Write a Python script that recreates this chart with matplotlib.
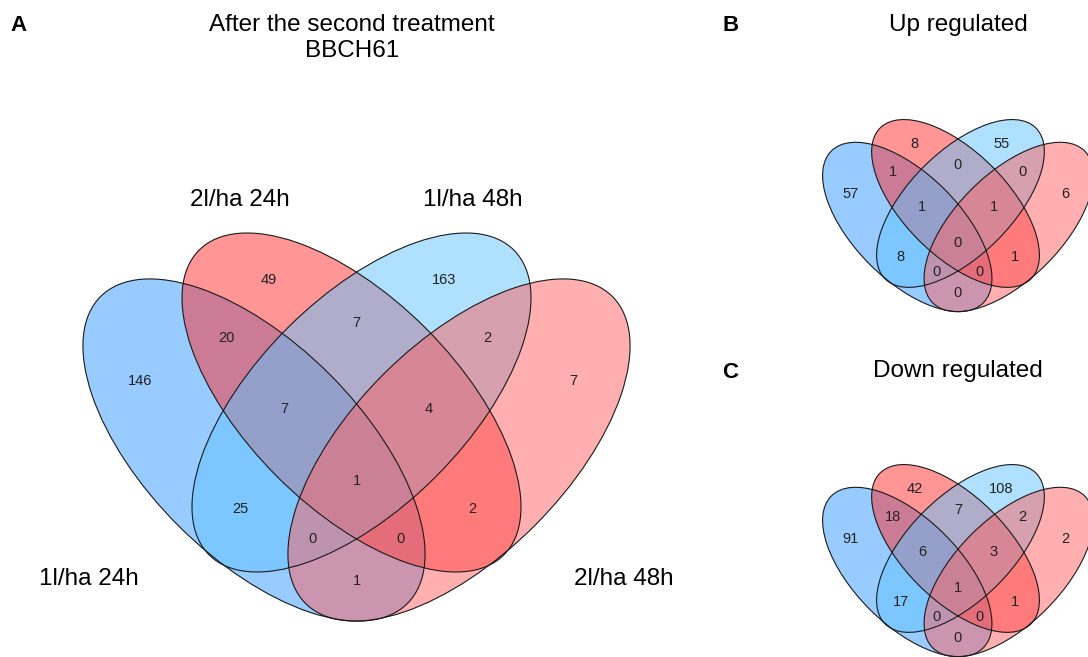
import matplotlib
matplotlib.use("Agg")
import matplotlib.pyplot as plt
from matplotlib.patches import Ellipse

plt.rcParams['font.family'] = ['Liberation Sans', 'DejaVu Sans']

# ---- data -------------------------------------------------------------
set_names = ["1l/ha 24h", "2l/ha 24h", "1l/ha 48h", "2l/ha 48h"]
set_colors = ["#3399ff", "#ff2d2d", "#61c5ff", "#ff6161"]

# region membership code: one digit per set, in the order of set_names
regions = ["1000", "0100", "0010", "0001",
           "1100", "0110", "0011",
           "1110", "0111",
           "1010", "1111", "0101",
           "1011", "1101", "1001"]

counts_all = [146, 49, 163, 7, 20, 7, 2, 7, 4, 25, 1, 2, 0, 0, 1]
counts_up = [57, 8, 55, 6, 1, 0, 0, 1, 1, 8, 0, 1, 0, 0, 0]
counts_down = [91, 42, 108, 2, 18, 7, 2, 6, 3, 17, 1, 1, 0, 0, 0]

panel_titles = ["After the second treatment\nBBCH61", "Up regulated", "Down regulated"]
panel_letters = ["A", "B", "C"]

# ---- layout of the four-ellipse diagram (offsets from the central crossing)
ellipse_shapes = [  # dx, dy, semi-major, semi-minor, angle
    (-102.5, -93.0, 217.0, 107.0, 45),
    (-5.0, -140.5, 215.5, 105.0, 45),
    (5.0, -140.5, 215.5, 105.0, -45),
    (102.5, -93.0, 217.0, 107.0, -45),
]

label_offsets = {
    "1000": (-216.5, -163), "0100": (-87.5, -264), "0010": (87.5, -264),
    "0001": (216.5, -163), "1100": (-130.5, -206), "0110": (0, -221),
    "0011": (130.5, -206), "1110": (-72.5, -135), "0111": (72.5, -135),
    "1010": (-116, -35), "1111": (0, -63), "0101": (116, -35),
    "1011": (-44, -5), "1101": (44, -5), "1001": (0, 37),
}

NUM_SIZE = 10.5
BIG_SIZE = 17.5


def draw_quad_venn(ax, cx, cy, s, counts):
    for (dx, dy, a, b, ang), col in zip(ellipse_shapes, set_colors):
        ax.add_patch(Ellipse((cx + s * dx, cy + s * dy), 2 * a * s, 2 * b * s,
                             angle=ang, facecolor=col, alpha=0.5,
                             edgecolor="none", zorder=1))
    for (dx, dy, a, b, ang) in ellipse_shapes:
        ax.add_patch(Ellipse((cx + s * dx, cy + s * dy), 2 * a * s, 2 * b * s,
                             angle=ang, fill=False, edgecolor="#1a1a1a",
                             linewidth=0.8, zorder=2))
    for reg, val in zip(regions, counts):
        dx, dy = label_offsets[reg]
        ax.text(cx + s * dx, cy + s * dy + 5.2, str(val), fontsize=NUM_SIZE,
                ha="center", va="baseline", color="#222222", zorder=3)


fig = plt.figure(figsize=(10.88, 6.57), dpi=100)
ax = fig.add_axes([0, 0, 1, 1])
ax.set_xlim(0, 1088)
ax.set_ylim(657, 0)
ax.axis("off")

# Panel A
draw_quad_venn(ax, 356.5, 543, 1.0, counts_all)
ax.text(240, 206, set_names[1], fontsize=BIG_SIZE, ha="center", va="baseline")
ax.text(473, 206, set_names[2], fontsize=BIG_SIZE, ha="center", va="baseline")
ax.text(89, 585, set_names[0], fontsize=BIG_SIZE, ha="center", va="baseline")
ax.text(624, 585, set_names[3], fontsize=BIG_SIZE, ha="center", va="baseline")
title_lines = panel_titles[0].split("\n")
ax.text(352, 31, title_lines[0], fontsize=BIG_SIZE, ha="center", va="baseline")
ax.text(352, 57, title_lines[1], fontsize=BIG_SIZE, ha="center", va="baseline")
ax.text(10, 31, panel_letters[0], fontsize=16, fontweight="bold", ha="left", va="baseline")

# Panel B
draw_quad_venn(ax, 958, 273, 0.495, counts_up)
ax.text(958, 31, panel_titles[1], fontsize=BIG_SIZE, ha="center", va="baseline")
ax.text(722, 31, panel_letters[1], fontsize=16, fontweight="bold", ha="left", va="baseline")

# Panel C
draw_quad_venn(ax, 958, 618, 0.495, counts_down)
ax.text(958, 377, panel_titles[2], fontsize=BIG_SIZE, ha="center", va="baseline")
ax.text(722, 378, panel_letters[2], fontsize=16, fontweight="bold", ha="left", va="baseline")

fig.savefig("out.png", dpi=100, facecolor="white")
